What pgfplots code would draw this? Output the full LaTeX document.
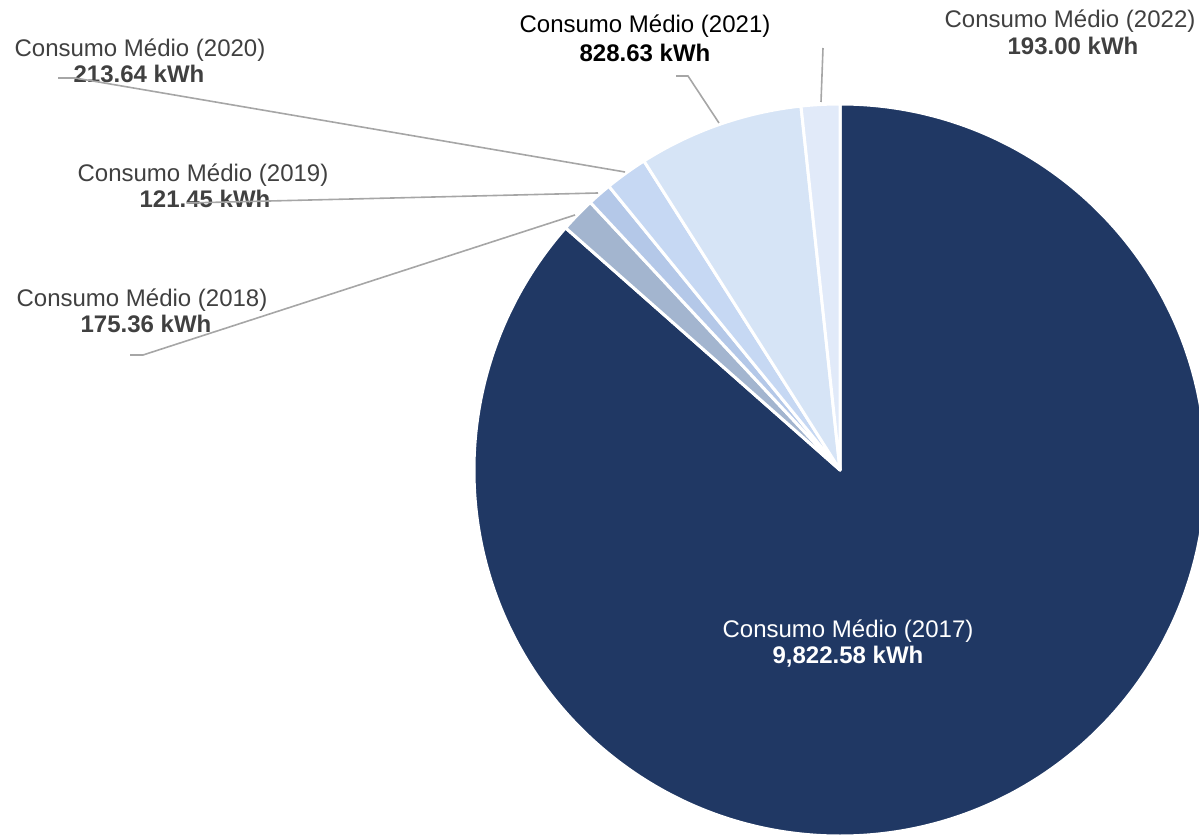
\documentclass[border=0pt]{standalone}
\usepackage{pgfplots}
\usepackage{pgfplotstable}
\pgfplotsset{compat=1.18}
\usepackage{fontspec}
\setmainfont{Liberation Sans}

\definecolor{slice0}{HTML}{203864}
\definecolor{slice1}{HTML}{A3B5CF}
\definecolor{slice2}{HTML}{B4C8E8}
\definecolor{slice3}{HTML}{C6D8F3}
\definecolor{slice4}{HTML}{D6E4F6}
\definecolor{slice5}{HTML}{E1EAF9}
\definecolor{lbltext}{HTML}{404040}
\definecolor{leadergray}{HTML}{A6A6A6}

% consumo medio por ano (kWh)
\pgfplotstableread{
year value
2017 9822.58
2018 175.36
2019 121.45
2020 213.64
2021 828.63
2022 193.00
}\piedata

\begin{document}
\begin{tikzpicture}[
    lbl/.style={font=\fontsize{12}{14}\selectfont, text=lbltext, anchor=base, inner sep=0pt},
    leader/.style={draw=leadergray, line width=0.8pt},
]
\path[use as bounding box] (0,0) rectangle (599.5pt,418pt);
\clip (0,0) rectangle (599.5pt,418pt);

% slice angles, clockwise from 12 o'clock
\gdef\total{0}
\pgfplotstableforeachcolumnelement{value}\of\piedata\as\v{%
  \pgfmathsetmacro\tmpsum{\total+\v}\xdef\total{\tmpsum}}
\xdef\cur{90}
\pgfplotstableforeachcolumnelement{value}\of\piedata\as\v{%
  \pgfmathsetmacro\tmpend{\cur-360*(\v/\total)}%
  \expandafter\xdef\csname sa\pgfplotstablerow\endcsname{\cur}%
  \expandafter\xdef\csname ea\pgfplotstablerow\endcsname{\tmpend}%
  \xdef\cur{\tmpend}}

\begin{axis}[
    at={(0,0)}, anchor=south west,
    scale only axis, width=599.5pt, height=418pt,
    xmin=0, xmax=1199, ymin=0, ymax=836,
    hide axis, clip=false,
]
\pgfplotsinvokeforeach{0,...,5}{
  \fill[slice#1, draw=white, line width=1.5pt, line join=round]
    (axis cs:840,366) -- ++(\csname sa#1\endcsname:183pt)
    arc[start angle=\csname sa#1\endcsname, end angle=\csname ea#1\endcsname, radius=183pt] -- cycle;
}

% labels
\node[lbl, text=white] at (axis cs:848,199) {Consumo Médio (2017)};
\node[lbl, text=white] at (axis cs:848,173) {\bfseries 9,822.58 kWh};
\node[lbl] at (axis cs:142,529) {Consumo Médio (2018)};
\node[lbl] at (axis cs:146,503) {\bfseries 175.36 kWh};
\node[lbl] at (axis cs:203,654) {Consumo Médio (2019)};
\node[lbl] at (axis cs:205,628) {\bfseries 121.45 kWh};
\node[lbl] at (axis cs:140,779) {Consumo Médio (2020)};
\node[lbl] at (axis cs:139,753) {\bfseries 213.64 kWh};
\node[lbl, text=black] at (axis cs:645,803) {Consumo Médio (2021)};
\node[lbl, text=black] at (axis cs:645,774) {\bfseries 828.63 kWh};
\node[lbl] at (axis cs:1070,808) {Consumo Médio (2022)};
\node[lbl] at (axis cs:1073,781) {\bfseries 193.00 kWh};

% leader lines
\draw[leader] (axis cs:130,481) -- (axis cs:143,481) -- (axis cs:575,621);
\draw[leader] (axis cs:187,633) -- (axis cs:598,643);
\draw[leader] (axis cs:58,758) -- (axis cs:75,758) -- (axis cs:625,664);
\draw[leader] (axis cs:676,760) -- (axis cs:688,760) -- (axis cs:719,713);
\draw[leader] (axis cs:823,788) -- (axis cs:821,734);
\end{axis}
\end{tikzpicture}
\end{document}
